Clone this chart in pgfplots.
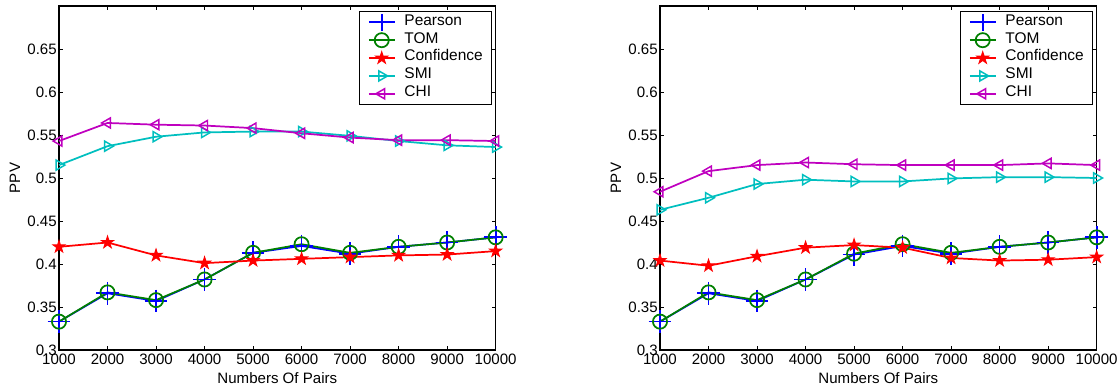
\documentclass[border=0pt]{standalone}
\usepackage{fontspec}
\setmainfont{Liberation Sans}
\usepackage{pgfplots}
\pgfplotsset{compat=1.18}
\usetikzlibrary{plotmarks}
\definecolor{mblue}{rgb}{0,0,1}
\definecolor{mgreen}{rgb}{0,0.5,0}
\definecolor{mred}{rgb}{1,0,0}
\definecolor{mcyan}{rgb}{0,0.75,0.75}
\definecolor{mmag}{rgb}{0.75,0,0.75}

\pgfdeclareplotmark{pstar}{%
  \pgfpathmoveto{\pgfpointpolar{90}{\pgfplotmarksize}}%
  \pgfpathlineto{\pgfpointpolar{126}{0.382\pgfplotmarksize}}%
  \pgfpathlineto{\pgfpointpolar{162}{\pgfplotmarksize}}%
  \pgfpathlineto{\pgfpointpolar{198}{0.382\pgfplotmarksize}}%
  \pgfpathlineto{\pgfpointpolar{234}{\pgfplotmarksize}}%
  \pgfpathlineto{\pgfpointpolar{270}{0.382\pgfplotmarksize}}%
  \pgfpathlineto{\pgfpointpolar{306}{\pgfplotmarksize}}%
  \pgfpathlineto{\pgfpointpolar{342}{0.382\pgfplotmarksize}}%
  \pgfpathlineto{\pgfpointpolar{18}{\pgfplotmarksize}}%
  \pgfpathlineto{\pgfpointpolar{54}{0.382\pgfplotmarksize}}%
  \pgfpathclose
  \pgfusepathqfillstroke
}

\pgfplotstableread{
x     pearson tom   conf  smi    chi
1000  0.333   0.333 0.420 0.515  0.543
2000  0.366   0.367 0.425 0.537  0.564
3000  0.357   0.358 0.410 0.548  0.562
4000  0.382   0.382 0.401 0.553  0.561
5000  0.413   0.413 0.404 0.554  0.558
6000  0.421   0.423 0.406 0.554  0.552
7000  0.412   0.413 0.408 0.549  0.547
8000  0.420   0.420 0.410 0.543  0.544
9000  0.425   0.425 0.411 0.538  0.544
10000 0.431   0.431 0.415 0.536  0.543
}\lefttable

\pgfplotstableread{
x     pearson tom   conf  smi    chi
1000  0.333   0.333 0.404 0.463  0.484
2000  0.366   0.367 0.398 0.477  0.508
3000  0.357   0.358 0.409 0.493  0.515
4000  0.382   0.382 0.419 0.498  0.518
5000  0.411   0.412 0.422 0.496  0.516
6000  0.421   0.423 0.419 0.496  0.515
7000  0.412   0.413 0.407 0.4995 0.515
8000  0.420   0.420 0.404 0.501  0.515
9000  0.425   0.425 0.405 0.501  0.517
10000 0.431   0.431 0.408 0.500  0.515
}\righttable

\pgfplotsset{
  ppvaxis/.style={
    scale only axis, width=327.5pt, height=258pt,
    xmin=1000, xmax=10000, ymin=0.3, ymax=0.7,
    scaled x ticks=false, scaled y ticks=false,
    xtick={1000,2000,3000,4000,5000,6000,7000,8000,9000,10000},
    xticklabels={1000,2000,3000,4000,5000,6000,7000,8000,9000,10000},
    ytick={0.3,0.35,0.4,0.45,0.5,0.55,0.6,0.65},
    yticklabels={0.3,0.35,0.4,0.45,0.5,0.55,0.6,0.65},
    /pgf/number format/assume math mode=true,
    tick align=inside, tick pos=both, major tick length=3pt,
    axis line style={line width=0.8pt},
    every tick/.style={black, line width=0.6pt},
    ticklabel style={font=\fontsize{11.3}{13}\selectfont},
    yticklabel style={inner xsep=1.5pt},
    xticklabel style={inner ysep=3pt},
    label style={font=\fontsize{11.3}{13}\selectfont},
    xlabel={Numbers Of Pairs}, ylabel={PPV},
    xlabel style={at={(axis description cs:0.5,0)}, anchor=base, yshift=-24.75pt},
    ylabel style={at={(axis description cs:-0.1008,0.5)}, anchor=center},
    clip=false,
    legend cell align=left,
    legend style={at={(axis description cs:0.9908,0.9855)}, anchor=north east,
      draw=black, line width=0.6pt, fill=white,
      inner xsep=6.4pt, inner ysep=1.5pt, column sep=6.75pt, row sep=0pt,
      font=\fontsize{11.6}{13.4}\selectfont,
      nodes={inner sep=0pt, text height=8.9pt, text depth=4.5pt}},
    legend image code/.code={\draw[mark repeat=2,mark phase=2] plot coordinates {(0pt,0pt) (9.65pt,0pt) (19.3pt,0pt)};},
  },
  spear/.style={color=mblue, line width=1.3pt, mark=+, mark size=8.5pt, legend image post style={mark size=6.3pt}},
  stom/.style={color=mgreen, line width=1.3pt, mark=o, mark size=5.3pt},
  sconf/.style={color=mred, line width=1.3pt, mark=pstar, mark size=4.6pt, mark options={fill=mred, line width=0.8pt}},
  ssmi/.style={color=mcyan, line width=1.3pt, mark=triangle, mark size=4.4pt, mark options={rotate=-90, line width=1.1pt}},
  schi/.style={color=mmag, line width=1.3pt, mark=triangle, mark size=4.4pt, mark options={rotate=90, line width=1.1pt}},
}

\begin{document}
\begin{tikzpicture}
\useasboundingbox (-44.25pt,-30pt) rectangle (795.75pt,262.5pt);
\begin{axis}[ppvaxis, at={(0pt,0pt)}, anchor=south west]
  \addplot[spear] table[x=x,y=pearson] {\lefttable};
  \addplot[stom] table[x=x,y=tom] {\lefttable};
  \addplot[sconf] table[x=x,y=conf] {\lefttable};
  \addplot[ssmi] table[x=x,y=smi] {\lefttable};
  \addplot[schi] table[x=x,y=chi] {\lefttable};
  \legend{Pearson,TOM,Confidence,SMI,CHI}
\end{axis}
\begin{axis}[ppvaxis, at={(450.75pt,0pt)}, anchor=south west]
  \addplot[spear] table[x=x,y=pearson] {\righttable};
  \addplot[stom] table[x=x,y=tom] {\righttable};
  \addplot[sconf] table[x=x,y=conf] {\righttable};
  \addplot[ssmi] table[x=x,y=smi] {\righttable};
  \addplot[schi] table[x=x,y=chi] {\righttable};
  \legend{Pearson,TOM,Confidence,SMI,CHI}
\end{axis}
\end{tikzpicture}
\end{document}
